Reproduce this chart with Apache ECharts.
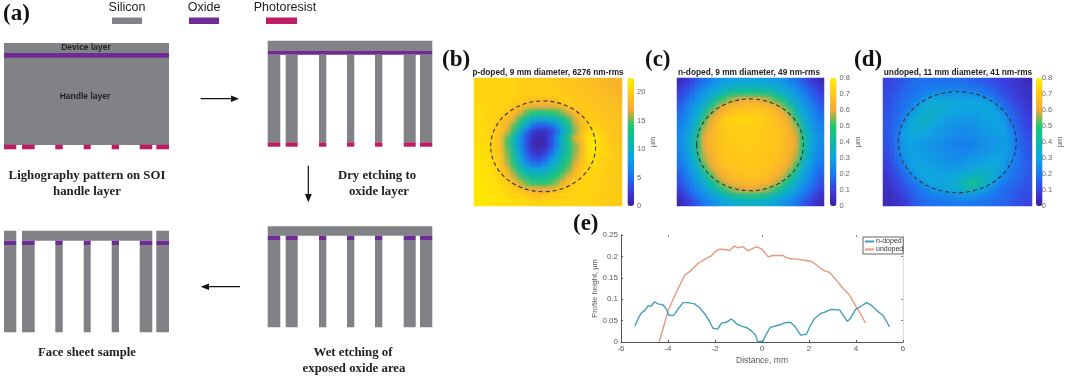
<!DOCTYPE html>
<html><head><meta charset="utf-8">
<style>html,body{margin:0;padding:0;background:#fff}#c{width:1065px;height:377px;filter:blur(0.45px)}</style>
<script src="https://cdn.jsdelivr.net/npm/echarts@6/dist/echarts.min.js"></script></head>
<body><div id="c"></div>
<script>
// ---- (e) profile data ----
var nDoped=[[-5.41,.037],[-5.27,.055],[-5.13,.068],[-4.99,.074],[-4.85,.084],[-4.71,.084],[-4.57,.094],[-4.43,.089],[-4.22,.087],[-4.07,.077],[-3.97,.0625],[-3.76,.062],[-3.57,.077],[-3.36,.092],[-3.15,.092],[-2.87,.089],[-2.65,.08],[-2.44,.066],[-2.23,.048],[-2.09,.032],[-1.88,.03],[-1.73,.044],[-1.52,.046],[-1.3,.054],[-1.09,.043],[-.88,.037],[-.67,.034],[-.45,.026],[-.27,.016],[-.2,.002],[.04,.001],[.16,.016],[.35,.034],[.61,.038],[.82,.041],[.96,.045],[1.21,.046],[1.39,.037],[1.65,.016],[1.89,.018],[2.03,.035],[2.24,.055],[2.48,.066],[2.67,.07],[2.95,.076],[3.3,.075],[3.45,.063],[3.63,.048],[3.76,.055],[3.99,.077],[4.23,.084],[4.44,.092],[4.65,.086],[4.87,.074],[5.15,.062],[5.29,.049],[5.43,.035]];
var undoped=[[-4.38,0],[-4.21,.031],[-3.99,.074],[-3.78,.1],[-3.57,.125],[-3.29,.156],[-3,.168],[-2.72,.184],[-2.44,.193],[-2.16,.201],[-1.99,.211],[-1.8,.217],[-1.59,.216],[-1.38,.214],[-1.18,.224],[-1.02,.22],[-.81,.223],[-.6,.213],[-.24,.223],[0,.217],[.26,.199],[.47,.202],[.89,.202],[1.15,.195],[1.53,.193],[1.82,.191],[2.14,.1875],[2.45,.174],[2.67,.166],[2.88,.1625],[3.16,.1445],[3.45,.125],[3.73,.109],[4.01,.082],[4.23,.0625],[4.4,.0445]];
// ---- (b) p-doped surface, um ----
var pDopedMap=[
[20.5,20.5,20.5,20.5,20.5,20.5,20.5,20,20,20,20,20,20,19.5,19.5,19.5,19.5,19,19,19,18.5,18,18,18],
[20.5,20.5,20.5,20.5,20.5,20.5,20.5,20,20,20,20,20,20,20,19.5,19.5,19.5,19,19,19,18.5,18.5,18,18],
[20.5,20.5,20.5,20.5,20.5,20.5,20.5,20,20,20,20,20,20,20,20,19.5,19.5,19.5,19,19,19,18.5,18.5,18],
[20.5,20.5,20.5,20.5,20.5,20.5,20,20,19.5,19.5,19,19,19,19.5,20,20,19.5,19.5,19.5,19,19,19,18.5,18.5],
[21,21,20.5,20.5,20.5,20,19.5,19,18,17.5,17,17,17,17.5,18.5,19.5,20,19.5,19.5,19.5,19,19,19,18.5],
[21,21,20.5,20.5,20,19.5,18.5,17,15,14,13.5,13.5,14,14.5,15.5,17,18.5,19.5,20,19.5,19.5,19,19,19],
[21,21,20.5,20.5,19.5,18.5,17,14.5,12,10,9.5,9.5,10,11,12.5,14.5,17,19,20,20,19.5,19.5,19,19],
[21,21,20.5,20,19,18,15,12,9,6,4.5,4.5,5.5,7.5,10.5,13,16,18.5,20,20.5,20,19.5,19.5,19],
[21,21,21,20,19,16.5,13.5,9.5,5.5,2.5,1.5,1.5,2.5,5,9,12,15.5,18.5,20.5,21,20.5,20,19.5,19],
[21,21,20.5,20,18,14.5,11,7.5,4,1.5,.5,1,3.5,7,10.5,14,17,19,21.5,22,21,20,19.5,19],
[21.5,21,21,20,18,14.5,11,7.5,4,1.2,.5,1,3,6.5,10,13,15.5,18,21,22,21,20,19.5,19.5],
[21.5,21.5,21,20,18.5,15,11.5,8,4.5,2,1.2,2,4.5,7.5,10.5,13,15.5,18,21,22,21,20.5,20,19.5],
[21.5,21.5,21,20.5,19,15.5,12.5,9,5.5,3.5,3,4,6.5,9,11.5,13.5,16,18.5,21,21.5,20.5,20.5,20,19.5],
[22,21.5,21,20.5,19,16,13.5,10,7.5,5.5,5,6.5,8.5,10.5,12.5,14.5,17,19,20.5,21,20.5,20,20,19.5],
[22,21.5,21.5,21,19.5,18,15,12,10,9,9,9.5,10.5,12,13.5,15.5,18,19.5,20.5,20.5,20.5,20,20,19.5],
[22,22,21.5,21,20,19,16.5,14.5,12.5,11.5,11.5,11.5,12.5,14,15.5,17.5,19,20,20.5,20.5,20.5,20,20,19.5],
[22,22,21.5,21.5,20.5,20,18.5,16.5,15,14,14,14,14.5,15.5,17.5,19,20,20.5,20.5,20.5,20,20,20,19.5],
[22,22,21.5,21.5,21,20.5,20,19,18,17.5,17,17,17.5,18.5,19.5,20,20.5,20.5,20.5,20.5,20,20,20,20],
[22,22,22,21.5,21.5,21,20.5,20.5,20,19.5,19,19.5,20,20,20.5,20.5,20.5,20.5,20.5,20,20,20,20,20],
[22,22,22,21.5,21.5,21.5,21,21,21,20.5,20.5,20.5,20.5,20.5,20.5,20.5,20.5,20.5,20.5,20.5,20,20,20,20]];
// ---- (c) n-doped surface, um ----
var nDopedMap=[
[.03,.07,.11,.15,.19,.22,.25,.27,.28,.29,.3,.3,.3,.3,.29,.28,.27,.25,.22,.19,.15,.11,.07,.03],
[.07,.11,.15,.19,.23,.26,.29,.32,.34,.35,.36,.36,.36,.36,.35,.34,.32,.29,.26,.23,.19,.15,.11,.07],
[.1,.14,.18,.23,.27,.31,.35,.39,.43,.46,.47,.48,.48,.47,.46,.43,.39,.35,.31,.27,.23,.18,.14,.1],
[.13,.17,.22,.26,.31,.36,.43,.5,.55,.58,.6,.61,.61,.6,.58,.55,.5,.43,.36,.31,.26,.22,.17,.13],
[.15,.2,.25,.29,.35,.44,.53,.6,.63,.65,.66,.66,.66,.66,.65,.63,.6,.53,.44,.35,.29,.25,.2,.15],
[.18,.22,.27,.32,.41,.53,.6,.64,.67,.69,.7,.7,.7,.7,.69,.67,.64,.6,.53,.41,.32,.27,.22,.18],
[.2,.24,.29,.35,.49,.59,.64,.68,.72,.73,.74,.74,.73,.72,.7,.68,.66,.64,.59,.49,.35,.29,.24,.2],
[.22,.26,.31,.4,.55,.62,.66,.71,.71,.72,.72,.72,.72,.71,.7,.69,.67,.65,.62,.55,.4,.31,.26,.22],
[.23,.27,.33,.45,.58,.63,.67,.69,.7,.71,.71,.71,.71,.71,.7,.69,.68,.66,.63,.58,.45,.33,.27,.23],
[.24,.28,.35,.48,.6,.64,.67,.69,.7,.71,.71,.71,.71,.71,.7,.69,.68,.66,.64,.6,.48,.35,.28,.24],
[.24,.28,.35,.48,.6,.64,.67,.69,.7,.7,.71,.71,.71,.7,.7,.69,.68,.66,.64,.6,.49,.35,.28,.24],
[.23,.27,.34,.47,.59,.63,.67,.69,.7,.7,.7,.7,.7,.7,.7,.69,.68,.66,.63,.59,.47,.34,.27,.23],
[.22,.26,.32,.43,.57,.62,.66,.68,.69,.7,.7,.7,.7,.7,.69,.68,.67,.65,.62,.57,.43,.32,.26,.22],
[.2,.24,.3,.38,.53,.6,.64,.67,.69,.69,.69,.7,.7,.69,.69,.68,.66,.64,.6,.53,.38,.3,.24,.2],
[.18,.22,.28,.34,.46,.56,.62,.65,.67,.68,.69,.69,.69,.69,.68,.66,.64,.62,.56,.46,.34,.28,.22,.18],
[.15,.2,.25,.31,.38,.49,.58,.62,.65,.67,.67,.68,.68,.67,.67,.65,.62,.58,.49,.38,.31,.25,.2,.15],
[.13,.18,.23,.27,.33,.4,.49,.57,.61,.63,.64,.65,.65,.64,.63,.61,.57,.49,.4,.33,.27,.23,.18,.13],
[.1,.15,.2,.24,.29,.34,.4,.47,.53,.57,.59,.6,.6,.59,.57,.53,.47,.4,.34,.29,.24,.2,.15,.1],
[.06,.11,.16,.2,.24,.28,.32,.36,.4,.43,.45,.46,.46,.45,.43,.4,.36,.32,.28,.24,.2,.16,.11,.06],
[.03,.07,.11,.16,.2,.23,.26,.29,.31,.33,.34,.34,.34,.34,.33,.31,.29,.26,.23,.2,.16,.11,.07,.03]];
// ---- (d) undoped surface, um ----
var undopedMap=[
[.1,.11,.13,.15,.17,.18,.18,.18,.18,.18,.18,.18,.18,.17,.16,.15,.14,.12,.11,.1,.09,.07,.05,.04],
[.11,.12,.14,.16,.18,.19,.2,.2,.21,.21,.21,.21,.21,.2,.19,.18,.17,.15,.13,.11,.09,.08,.06,.05],
[.12,.13,.15,.17,.19,.2,.21,.23,.25,.26,.26,.26,.26,.25,.24,.22,.2,.18,.15,.13,.11,.09,.07,.06],
[.12,.14,.16,.18,.2,.22,.26,.3,.31,.31,.31,.3,.3,.3,.3,.3,.28,.24,.18,.15,.13,.1,.08,.06],
[.13,.14,.17,.19,.21,.27,.31,.33,.33,.33,.32,.31,.3,.3,.3,.3,.3,.3,.26,.18,.15,.12,.09,.07],
[.13,.15,.17,.2,.26,.31,.33,.34,.34,.33,.31,.3,.29,.29,.29,.29,.3,.3,.29,.24,.17,.14,.11,.08],
[.14,.15,.18,.23,.3,.33,.34,.34,.32,.3,.29,.28,.27,.27,.27,.28,.29,.29,.3,.27,.19,.15,.12,.09],
[.14,.16,.19,.27,.31,.33,.33,.32,.3,.28,.27,.26,.26,.25,.26,.27,.28,.29,.29,.29,.22,.17,.13,.1],
[.14,.16,.2,.29,.31,.32,.31,.3,.28,.27,.26,.25,.24,.24,.25,.26,.27,.28,.29,.29,.25,.18,.14,.11],
[.13,.16,.21,.29,.3,.3,.29,.28,.27,.26,.25,.24,.23,.23,.24,.25,.26,.27,.28,.29,.26,.19,.15,.12],
[.13,.16,.21,.28,.29,.28,.27,.26,.25,.24,.23,.22,.21,.21,.22,.24,.25,.26,.27,.28,.27,.2,.16,.13],
[.12,.15,.2,.28,.29,.29,.28,.27,.26,.25,.24,.23,.23,.23,.24,.25,.26,.27,.28,.29,.26,.2,.16,.14],
[.11,.14,.19,.27,.29,.29,.29,.28,.27,.26,.25,.24,.24,.25,.26,.27,.28,.29,.3,.29,.25,.2,.17,.14],
[.09,.13,.17,.23,.29,.3,.3,.29,.28,.27,.26,.26,.26,.27,.28,.29,.3,.31,.31,.29,.23,.2,.17,.15],
[.08,.11,.15,.2,.26,.3,.3,.3,.29,.28,.28,.28,.29,.3,.32,.33,.33,.33,.31,.27,.22,.19,.17,.15],
[.07,.1,.13,.17,.21,.27,.3,.3,.3,.3,.3,.31,.33,.35,.37,.37,.36,.35,.3,.23,.2,.18,.16,.14],
[.06,.08,.11,.15,.18,.21,.27,.3,.3,.3,.31,.33,.36,.4,.44,.42,.37,.31,.25,.2,.18,.17,.15,.13],
[.05,.07,.09,.13,.16,.19,.21,.25,.28,.29,.3,.32,.34,.38,.38,.33,.28,.24,.2,.18,.17,.15,.14,.12],
[.04,.05,.08,.1,.14,.17,.19,.2,.22,.23,.24,.25,.26,.27,.26,.24,.22,.2,.19,.18,.16,.14,.13,.11],
[.04,.05,.06,.08,.12,.15,.17,.18,.19,.2,.2,.2,.2,.2,.2,.2,.19,.18,.17,.16,.15,.13,.12,.1]];
// ---- aperture circles: [centre x mm, centre y mm, diameter mm] ----
var pCircle=[[5.93,5.92,9]], nCircle=[[6.16,6.0,9]], uCircle=[[6.93,6.95,11]];
// ---- (a) schematic: x spans of the seven pillars in the two layouts ----
var pillarSpans=[[4,16.3],[22,34.7],[55.3,62.7],[83.7,90.7],[111.7,119],[139.7,152.3],[156.3,169]];
var etchedSpans=[[267.7,280.3],[285.7,297.7],[319,326.3],[347,354.3],[375,382.3],[403.7,415.7],[420,432.3]];
var legendNames=['Silicon','Oxide','Photoresist'];

var GRAY='#808285',PURPLE='#6f2a96',PINK='#bf1c66';
var blocks=[];
function add(x0,y0,x1,y1,c){blocks.push([x0,y0,x1,y1,c]);}
add(112,17.5,142,24,GRAY);add(189,17.5,219,24,PURPLE);add(266,17.5,297,24,PINK);
add(4,43,169,145,GRAY);add(4,53,169,57.7,PURPLE);
pillarSpans.forEach(function(s){add(s[0],144.7,s[1],149.3,PINK);});
add(267.7,40.7,432.3,51,GRAY);add(267.7,51,432.3,54.7,PURPLE);
etchedSpans.forEach(function(s){add(s[0],54.7,s[1],142.3,GRAY);add(s[0],142.3,s[1],146.7,PINK);});
add(267.7,226.3,432.3,235.7,GRAY);
etchedSpans.forEach(function(s){add(s[0],235.7,s[1],240,PURPLE);add(s[0],240,s[1],327.3,GRAY);});
add(22,230.7,152.3,240.7,GRAY);add(4,230.7,16.3,240.7,GRAY);add(156.3,230.7,169,240.7,GRAY);
pillarSpans.forEach(function(s){add(s[0],240.7,s[1],245,PURPLE);add(s[0],245,s[1],332.3,GRAY);});

var cmap=['#3b1fa0','#3a3fe0','#1a78f0','#0ea5e0','#10b8a8','#20c870','#f4a838','#ffc818','#ffee00'];
function cells(m){var o=[];m.forEach(function(row,r){row.forEach(function(v,c){o.push([c,m.length-1-r,v]);});});return o;}
function idx(n){var a=[];for(var i=0;i<n;i++)a.push(i);return a;}

var panels=[
 {m:pDopedMap,c:pCircle,l:474,w:148,cb:627.5,max:22.5,iv:5,span:[12.69,12.7],nameGap:10},
 {m:nDopedMap,c:nCircle,l:677,w:147,cb:830,max:.8,iv:.1,span:[12.4,12.55],nameGap:10},
 {m:undopedMap,c:uCircle,l:883,w:149,cb:1036,max:.8,iv:.1,span:[13.9,13.94],nameGap:15}];
var T=78,H=128;
var grid=[{left:0,top:0,width:1065,height:377}],xAxis=[{type:'value',min:0,max:1065,show:false,gridIndex:0}],
 yAxis=[{type:'value',min:0,max:377,inverse:true,show:false,gridIndex:0}],series=[],visualMap=[];
series.push({type:'custom',xAxisIndex:0,yAxisIndex:0,data:blocks,silent:true,clip:false,
 encode:{x:[0,2],y:[1,3]},
 renderItem:function(p,api){var a=api.coord([api.value(0),api.value(1)]),b=api.coord([api.value(2),api.value(3)]);
  return {type:'rect',shape:{x:a[0],y:a[1],width:b[0]-a[0],height:b[1]-a[1]},style:{fill:blocks[p.dataIndex][4]}};}});
panels.forEach(function(P,i){
 var g=grid.length;
 grid.push({left:P.l,top:T,width:P.w,height:H});
 xAxis.push({type:'category',gridIndex:g,data:idx(24),show:false});
 yAxis.push({type:'category',gridIndex:g,data:idx(20),show:false});
 var hs=series.length, d=cells(P.m);
 series.push({type:'heatmap',xAxisIndex:g,yAxisIndex:g,data:d,silent:true,progressive:0});
 // soft overlay: each cell feathered into its neighbours, as the original surface is continuous
 series.push({type:'custom',xAxisIndex:g,yAxisIndex:g,data:d,silent:true,clip:true,z:3,progressive:0,encode:{x:0,y:1},
  renderItem:function(p,api){var c=api.coord([api.value(0),api.value(1)]),s=api.size([1,1]),R=Math.max(s[0],s[1])*1.3,col=api.visual('color'),ma=echarts.color.modifyAlpha;
   return {type:'rect',shape:{x:c[0]-R,y:c[1]-R,width:2*R,height:2*R},style:{fill:{type:'radial',x:.5,y:.5,r:.5,colorStops:[{offset:0,color:ma(col,.55)},{offset:.45,color:ma(col,.32)},{offset:1,color:ma(col,0)}]}}};}});
 visualMap.push({type:'continuous',seriesIndex:[hs,hs+1],dimension:2,min:0,max:P.max,calculable:false,show:true,left:P.cb,top:T,itemWidth:6.5,itemHeight:H,padding:0,text:['',''],inRange:{color:cmap},realtime:false,hoverLink:false});
 g=grid.length;
 grid.push({left:P.l,top:T,width:P.w,height:H});
 xAxis.push({type:'value',gridIndex:g,min:0,max:P.span[0],show:false});
 yAxis.push({type:'value',gridIndex:g,min:0,max:P.span[1],show:false});
 series.push({type:'custom',xAxisIndex:g,yAxisIndex:g,data:P.c,silent:true,z:5,encode:{x:0,y:1},
  renderItem:function(p,api){var c=api.coord([api.value(0),api.value(1)]),s=api.size([api.value(2),api.value(2)]);
   return {type:'ellipse',shape:{cx:c[0],cy:c[1],rx:s[0]/2,ry:s[1]/2},style:{fill:null,stroke:'#33333c',lineWidth:1.1,lineDash:[4,3]}};}});
 g=grid.length;
 grid.push({left:P.cb,top:T,width:6.5,height:H});
 xAxis.push({type:'value',gridIndex:g,show:false,min:0,max:1});
 yAxis.push({type:'value',gridIndex:g,position:'right',min:0,max:P.max,interval:P.iv,
  axisLine:{show:false},axisTick:{show:false},splitLine:{show:false},
  axisLabel:{color:'#666',fontSize:7.5,margin:3,fontFamily:'Liberation Sans',showMaxLabel:i>0},
  name:'µm',nameLocation:'middle',nameGap:P.nameGap,nameRotate:90,nameTextStyle:{color:'#666',fontSize:7.5,fontFamily:'Liberation Sans'}});
});
var g=grid.length;
var axT={color:'#5a5a5a',fontSize:8,fontFamily:'Liberation Sans'};
grid.push({left:621,top:235,width:282,height:107});
xAxis.push({type:'value',gridIndex:g,min:-6,max:6,interval:2,
 axisLine:{lineStyle:{color:'#555',width:1},onZero:false},axisTick:{show:true,inside:true,length:2,lineStyle:{color:'#555'}},splitLine:{show:false},
 axisLabel:Object.assign({margin:3},axT),name:'Distance, mm',nameLocation:'middle',nameGap:14,nameTextStyle:Object.assign({},axT,{fontSize:8.5})});
yAxis.push({type:'value',gridIndex:g,min:0,max:.25,interval:.05,
 axisLine:{show:true,onZero:false,lineStyle:{color:'#555',width:1}},axisTick:{show:true,inside:true,length:2,lineStyle:{color:'#555'}},splitLine:{show:false},
 axisLabel:Object.assign({margin:3},axT),name:'Profile height, µm',nameLocation:'middle',nameGap:11,nameTextStyle:Object.assign({},axT,{fontSize:7.5})});
xAxis.push({type:'value',gridIndex:g,position:'top',min:-6,max:6,axisLine:{show:false,onZero:false},axisLabel:{show:false},splitLine:{show:false},
 axisTick:{show:true,inside:true,length:2,customValues:[-4,0,4],lineStyle:{color:'#888'}}});
yAxis.push({type:'value',gridIndex:g,position:'right',min:0,max:.25,axisLine:{show:true,onZero:false,lineStyle:{color:'#ddd'}},axisLabel:{show:false},splitLine:{show:false},
 axisTick:{show:true,inside:true,length:2,customValues:[.05,.1,.2],lineStyle:{color:'#888'}}});
series.push({name:'n-doped',type:'line',xAxisIndex:xAxis.length-2,yAxisIndex:yAxis.length-2,data:nDoped,showSymbol:false,symbol:'none',silent:true,lineStyle:{color:'#43a0bd',width:1.4},itemStyle:{color:'#43a0bd'},z:4});
series.push({name:'undoped',type:'line',xAxisIndex:xAxis.length-2,yAxisIndex:yAxis.length-2,data:undoped,showSymbol:false,symbol:'none',silent:true,lineStyle:{color:'#e6997a',width:1.4},itemStyle:{color:'#e6997a'},z:3});

function txt(s,x,y,size,weight,font,align,color){return {type:'text',z:100,silent:true,x:x,y:y,style:{text:s,fill:color||'#222',font:weight+' '+size+'px "'+font+'"',textAlign:align||'center',textVerticalAlign:'middle'}};}
var SER='Liberation Serif',SAN='Liberation Sans';
var gr=[
 txt('(a)',3,14,23,'bold',SER,'left','#111'),txt('(b)',442,60,23,'bold',SER,'left','#111'),txt('(c)',645,60,23,'bold',SER,'left','#111'),txt('(d)',854,60,23,'bold',SER,'left','#111'),txt('(e)',573,224,23,'bold',SER,'left','#111'),
 txt(legendNames[0],127,8,12.5,'normal',SAN),txt(legendNames[1],204,8,12.5,'normal',SAN),txt(legendNames[2],285,8,12.5,'normal',SAN),
 txt('Device layer',86,48,8.5,'bold',SAN),txt('Handle layer',85,97,8.5,'bold',SAN),
 txt('Lighography pattern on SOI',87,176,12.8,'bold',SER),txt('handle layer',87,192,12.8,'bold',SER),
 txt('Dry etching to',377,176,12.8,'bold',SER),txt('oxide layer',379,192,12.8,'bold',SER),
 txt('Face sheet sample',87,353,12.8,'bold',SER),txt('Wet etching of',353,353,12.8,'bold',SER),txt('exposed oxide area',354,369,12.8,'bold',SER),
 txt('p-doped, 9 mm diameter, 6276 nm-rms',548,73,8.3,'bold',SAN),txt('n-doped, 9 mm diameter, 49 nm-rms',749,73,8.3,'bold',SAN),txt('undoped, 11 mm diameter, 41 nm-rms',958,73,8.3,'bold',SAN)
];
function line(x1,y1,x2,y2){return {type:'line',z:100,silent:true,shape:{x1:x1,y1:y1,x2:x2,y2:y2},style:{stroke:'#111',lineWidth:1.2}};}
function tri(p){return {type:'polygon',z:100,silent:true,shape:{points:p},style:{fill:'#111'}};}
gr.push(line(200.7,98.7,233,98.7),tri([[239,98.7],[231,95.5],[231,102]]));
gr.push(line(308.3,165.7,308.3,196),tri([[308.3,202.3],[305,194],[311.8,194]]));
gr.push(line(240,286.7,207,286.7),tri([[200.7,286.7],[209,283.5],[209,290]]));

var chart=echarts.init(document.getElementById('c'),null,{renderer:'canvas'});
chart.setOption({animation:false,backgroundColor:'#fff',grid:grid,xAxis:xAxis,yAxis:yAxis,series:series,visualMap:visualMap,graphic:{elements:gr},
 legend:{data:['n-doped','undoped'],orient:'vertical',left:863,top:237,itemWidth:9,itemHeight:2,itemGap:1,padding:[1,0,1,1],borderColor:'#666',borderWidth:1,backgroundColor:'#fff',selectedMode:false,textStyle:{fontSize:7,color:'#333',padding:[0,0,0,-3],fontFamily:SAN}},
 tooltip:{show:false}});
</script></body></html>
